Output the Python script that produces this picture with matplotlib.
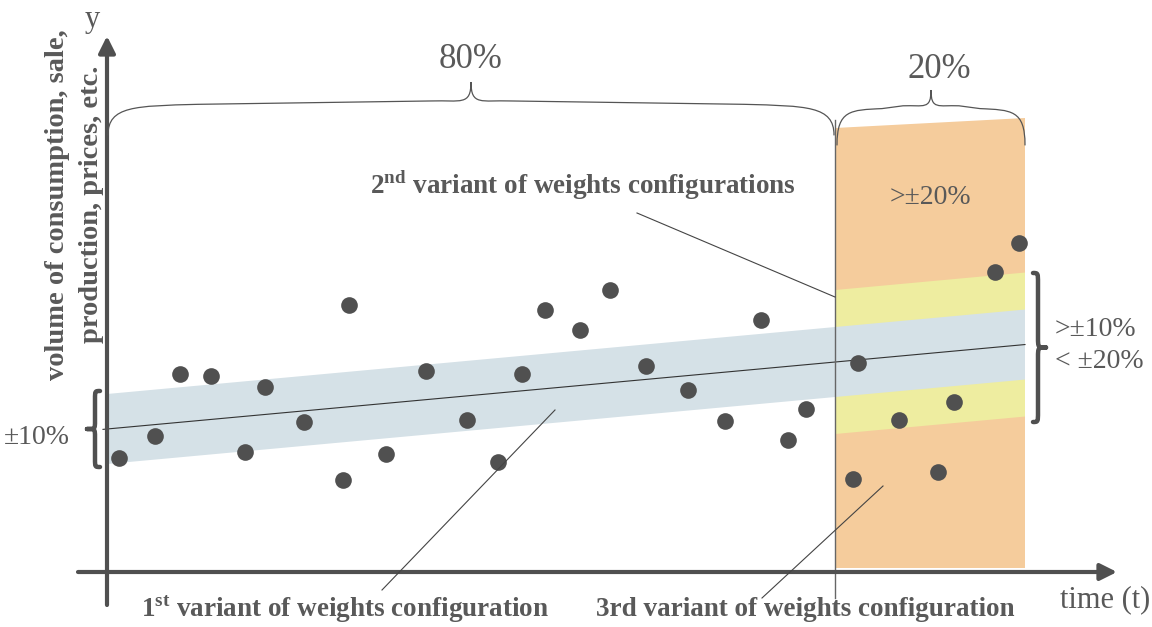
import numpy as np
import matplotlib
matplotlib.use("Agg")
import matplotlib.pyplot as plt
from matplotlib.path import Path
from matplotlib.patches import PathPatch, Polygon, FancyArrowPatch

# ---------------- data (time t, value v; origin at the axes corner) ----------------
obs_t = [12, 48, 73, 104, 138, 158, 197, 236, 242, 279, 319, 360, 391, 415, 438,
         473, 503, 539, 581, 618, 654, 681, 699, 751, 746, 792, 831, 847, 888, 912]
obs_v = [114, 136, 198, 196, 120, 185, 150, 92, 267, 118, 201, 152, 110, 198, 262,
         242, 282, 206, 182, 151, 252, 132, 163, 209, 93, 152, 100, 170, 300, 329]

trend_intercept = 143.0
trend_slope = 0.092
band1_half = 35      # +-10 %
band2_half = 72      # +-20 %
t_split = 728        # 80 % / 20 % split
t_end = 918
orange_top = [444, 454]
orange_bottom = 4

split_labels = ["80%", "20%"]
ylabel_lines = ["volume of consumption, sale,", "production, prices, etc."]

TXT = "#595959"
DARK = "#505050"
BLUE = "#d5e1e7"
YELLOW = "#eeeda0"
ORANGE = "#f5cc9c"

plt.rcParams['font.family'] = ['Liberation Serif', 'DejaVu Serif']

fig = plt.figure(figsize=(11.52, 6.27), dpi=100)
ax = fig.add_axes([0, 0, 1, 1])
ax.set_xlim(-107, 1045)
ax.set_ylim(-55, 572)
ax.axis("off")


def trend(t):
    return trend_intercept + trend_slope * np.asarray(t, dtype=float)


# orange region
ax.add_patch(Polygon([[t_split, orange_bottom], [t_end, orange_bottom],
                      [t_end, orange_top[1]], [t_split, orange_top[0]]],
                     closed=True, facecolor=ORANGE, edgecolor="none", zorder=1))
# yellow band (only in 20 % part)
ax.add_patch(Polygon([[t_split, trend(t_split) - band2_half], [t_end, trend(t_end) - band2_half],
                      [t_end, trend(t_end) + band2_half], [t_split, trend(t_split) + band2_half]],
                     closed=True, facecolor=YELLOW, edgecolor="none", zorder=2))
# blue band (whole range)
ax.add_patch(Polygon([[0, trend(0) - band1_half], [t_end, trend(t_end) - band1_half],
                      [t_end, trend(t_end) + band1_half], [0, trend(0) + band1_half]],
                     closed=True, facecolor=BLUE, edgecolor="none", zorder=3))

# trend line
tt = np.array([-4, t_end])
ax.plot(tt, trend(tt), color="#333333", lw=0.8, zorder=4)

# split vertical line
ax.plot([t_split, t_split], [-26, 452], color="#666666", lw=1.0, zorder=4)

# observations
ax.plot(obs_t, obs_v, "o", color=DARK, ms=12, mec="none", zorder=6)

# axes with arrows
ax.add_patch(FancyArrowPatch((0, -33), (0, 536), arrowstyle="-|>,head_length=10,head_width=5",
                             mutation_scale=1, color=DARK, lw=3, zorder=7, shrinkA=0, shrinkB=0))
ax.add_patch(FancyArrowPatch((-29, 0), (1010, 0), arrowstyle="-|>,head_length=10,head_width=5",
                             mutation_scale=1, color=DARK, lw=3, zorder=7, shrinkA=0, shrinkB=0))


def hbrace(x0, x1, vb, vs, vt, d, dm, lw=0.9, color="#555555"):
    """Curly brace: ends at vb, shoulders at vs, tip at vt."""
    xm = (x0 + x1) / 2.0
    rise = (vt - vs) * 0.35
    verts = [(x0, vb),
             (x0, vs), (x0 + d * 0.3, vs), (x0 + d, vs + rise * 0.2),
             (xm - dm, vs + rise * 0.6),
             (xm - dm * 0.25, vs + rise * 0.7), (xm, vs), (xm, vt),
             (xm, vs), (xm + dm * 0.25, vs + rise * 0.7), (xm + dm, vs + rise * 0.6),
             (x1 - d, vs + rise * 0.2),
             (x1 - d * 0.3, vs), (x1, vs), (x1, vb)]
    codes = [Path.MOVETO,
             Path.CURVE4, Path.CURVE4, Path.CURVE4,
             Path.LINETO,
             Path.CURVE4, Path.CURVE4, Path.CURVE4,
             Path.CURVE4, Path.CURVE4, Path.CURVE4,
             Path.LINETO,
             Path.CURVE4, Path.CURVE4, Path.CURVE4]
    ax.add_patch(PathPatch(Path(verts, codes), facecolor="none", edgecolor=color,
                           lw=lw, zorder=8, capstyle="round"))
    return xm


def vbrace(xe, xs, xt, v0, v1, d, lw=3.2, color="#505050"):
    vm = (v0 + v1) / 2.0
    verts = [(xe, v1),
             (xs, v1), (xs, v1), (xs, v1 - d),
             (xs, vm + d),
             (xs, vm), (xs, vm), (xt, vm),
             (xs, vm), (xs, vm), (xs, vm - d),
             (xs, v0 + d),
             (xs, v0), (xs, v0), (xe, v0)]
    codes = [Path.MOVETO,
             Path.CURVE4, Path.CURVE4, Path.CURVE4,
             Path.LINETO,
             Path.CURVE4, Path.CURVE4, Path.CURVE4,
             Path.CURVE4, Path.CURVE4, Path.CURVE4,
             Path.LINETO,
             Path.CURVE4, Path.CURVE4, Path.CURVE4]
    ax.add_patch(PathPatch(Path(verts, codes), facecolor="none", edgecolor=color,
                           lw=lw, zorder=8, capstyle="round", joinstyle="round"))


# top braces
xm1 = hbrace(1, t_split - 1, 437, 466, 490, 90, 40)
xm2 = hbrace(t_split + 2, t_end, 427, 462, 482, 45, 28)
ax.text(xm1, 512, split_labels[0], fontsize=25, color=TXT, ha="center", va="center")
ax.text(xm2 + 8, 502, split_labels[1], fontsize=25, color=TXT, ha="center", va="center")

# left brace  +-10 %
vbrace(-7, -12, -20, trend(0) - 38, trend(0) + 38, 8)
ax.text(-70, 135, "±10%", fontsize=20, color=TXT, ha="center", va="center")

# right brace
vbrace(926, 931, 939, 150, 299, 10)
ax.text(948, 242, ">±10%", fontsize=20, color=TXT, ha="left", va="center")
ax.text(948, 210, "< ±20%", fontsize=20, color=TXT, ha="left", va="center")

ax.text(823, 375, ">±20%", fontsize=20, color=TXT, ha="center", va="center")

# annotation labels
ax.text(476, 387, r"2$^{\mathregular{nd}}$ variant of weights configurations", fontsize=19.5,
        fontweight="bold", color=TXT, ha="center", va="center")
ax.plot([530, 728], [359, 275], color="#444444", lw=0.8, zorder=9)

ax.text(238, -37, r"1$^{\mathregular{st}}$ variant of weights configuration", fontsize=19.5,
        fontweight="bold", color=TXT, ha="center", va="center")
ax.plot([275, 448], [-18, 162], color="#444444", lw=0.8, zorder=9)

ax.text(698, -37, "3rd variant of weights configuration", fontsize=19.5,
        fontweight="bold", color=TXT, ha="center", va="center")
ax.plot([655, 776], [-26, 86], color="#444444", lw=0.8, zorder=9)

ax.text(998, -28, "time (t)", fontsize=22, color=TXT, ha="center", va="center")
ax.text(-15, 552, "y", fontsize=22, color=TXT, ha="center", va="center")

ax.text(-49, 367, ylabel_lines[0], fontsize=20.5, fontweight="bold", color=TXT,
        ha="center", va="center", rotation=90)
ax.text(-15, 368, ylabel_lines[1], fontsize=20.5, fontweight="bold", color=TXT,
        ha="center", va="center", rotation=90)

fig.savefig("out.png", dpi=100)
